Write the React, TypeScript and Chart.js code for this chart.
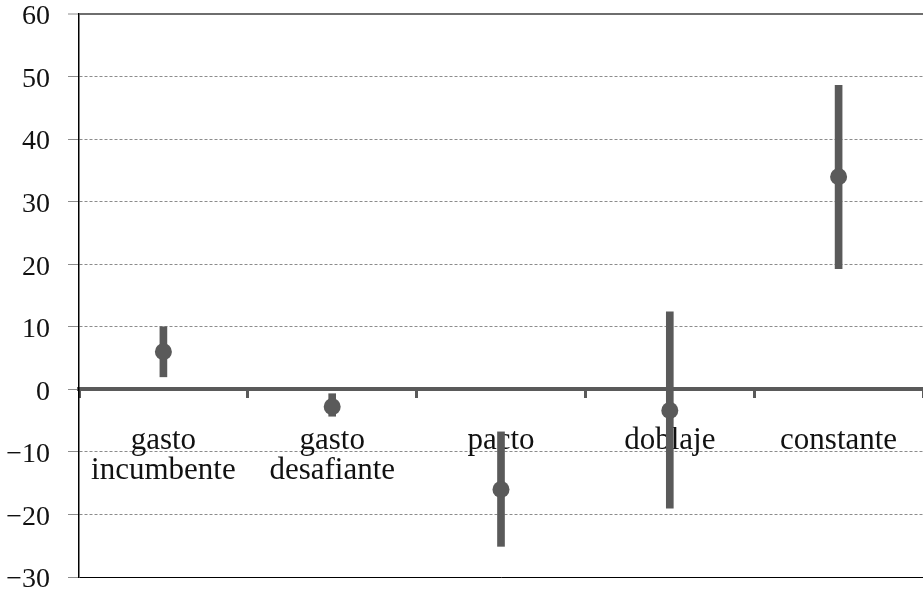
import React, { useEffect, useRef } from "react";
import { Chart, registerables } from "chart.js";

Chart.register(...registerables);

const categories: (string | string[])[] = [
  ["gasto", "incumbente"],
  ["gasto", "desafiante"],
  "pacto",
  "doblaje",
  "constante",
];
const estimates = [6.0, -2.8, -16.0, -3.4, 34.0];
const lowerBounds = [2.0, -4.3, -25.1, -19.0, 19.3];
const upperBounds = [10.0, -0.7, -6.8, 12.4, 48.6];
const yTicks = [-30, -20, -10, 0, 10, 20, 30, 40, 50, 60];

const MARK = "#5a5a5a";
const GRID = "#8c8c8c";
const FONT = "'Liberation Serif', 'Times New Roman', serif";

function fmt(v: number): string {
  return v < 0 ? "\u2212" + Math.abs(v) : String(v);
}

export default function App() {
  const ref = useRef<HTMLCanvasElement | null>(null);

  useEffect(() => {
    if (!ref.current) return;
    const ranges = lowerBounds.map((lo, i) => [lo, upperBounds[i]]);
    const chart = new Chart(ref.current, {
      type: "bar",
      data: {
        labels: categories as any,
        datasets: [
          {
            type: "bar",
            data: ranges as any,
            backgroundColor: MARK,
            borderWidth: 0,
            borderSkipped: false,
            barThickness: 7,
            order: 2,
          },
          {
            type: "line",
            data: estimates,
            showLine: false,
            pointRadius: 8.5,
            pointHoverRadius: 8.5,
            pointBackgroundColor: MARK,
            pointBorderWidth: 0,
            borderWidth: 0,
            order: 1,
          } as any,
        ],
      },
      options: {
        animation: false,
        responsive: true,
        maintainAspectRatio: false,
        layout: { autoPadding: false, padding: 0 } as any,
        plugins: {
          legend: { display: false },
          tooltip: { enabled: false },
        },
        scales: {
          x: {
            type: "category",
            position: { y: 0 } as any,
            offset: true,
            afterFit: (scale: any) => {
              scale.paddingLeft = 0;
              scale.paddingRight = 0;
            },
            grid: {
              offset: true,
              drawOnChartArea: false,
              drawTicks: true,
              tickLength: 7,
              tickWidth: 3,
              tickColor: MARK,
            },
            border: { display: true, color: MARK, width: 4 },
            ticks: {
              font: { family: FONT, size: 31, lineHeight: "30px" },
              color: "#111",
              padding: 30,
              maxRotation: 0,
              autoSkip: false,
            },
          },
          y: {
            type: "linear",
            min: -30,
            max: 60,
            afterFit: (scale: any) => {
              scale.width = 79;
              scale.paddingTop = 14;
              scale.paddingBottom = 13;
            },
            afterBuildTicks: (scale: any) => {
              scale.ticks = yTicks.map((v) => ({ value: v }));
            },
            grid: {
              color: (ctx: any) => {
                const v = ctx.tick?.value;
                if (v === 0) return "rgba(0,0,0,0)";
                if (v === -30) return "#000";
                if (v === 60) return "#6e6e6e";
                return GRID;
              },
              lineWidth: (ctx: any) => (ctx.tick?.value === 60 ? 2 : 1),
              tickColor: GRID,
              tickLength: 11,
              tickWidth: 1,
            },
            border: {
              display: true,
              color: "#000",
              width: 1.5,
              dash: (ctx: any) => {
                const v = ctx.tick?.value;
                return v === 60 || v === -30 ? [] : [3, 2];
              },
            } as any,
            ticks: {
              font: { family: FONT, size: 28, lineHeight: 1.0 },
              color: "#111",
              padding: 18,
              labelOffset: 3,
              callback: (v: any) => fmt(Number(v)),
            },
          },
        },
      },
    });
    return () => chart.destroy();
  }, []);

  return (
    <div style={{ position: "fixed", left: 0, top: 0, width: 923, height: 590, background: "#fff" }}>
      <canvas ref={ref} />
    </div>
  );
}
